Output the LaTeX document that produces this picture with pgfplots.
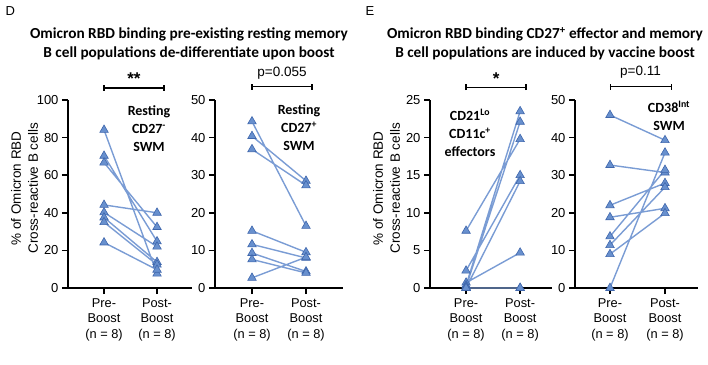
\documentclass[border=0pt]{standalone}
\usepackage{fontspec}
\setmainfont{Liberation Sans}
\newfontfamily\calib{Carlito}
\usepackage{pgfplots}
\pgfplotsset{compat=1.18}
\definecolor{lineblue}{RGB}{122,156,212}
\definecolor{markfill}{RGB}{104,144,206}
\definecolor{markdraw}{RGB}{62,102,172}
\pgfplotsset{
  panel/.style={
    scale only axis, height=188pt,
    axis lines=left, axis line style={-,line width=1.8pt,black},
    tick style={line width=1.6pt,black}, major tick length=6pt, tick align=outside,
    xtick={0,1}, xticklabels={{Pre-\\Boost\\(n = 8)},{Post-\\Boost\\(n = 8)}},
    xticklabel style={align=center,font=\fontsize{12.8}{15.6}\selectfont, yshift=-1pt},
    yticklabel style={font=\fontsize{13}{15}\selectfont},
    /pgf/number format/assume math mode=true,
    ymin=0, clip=false, unbounded coords=jump,
    every axis y label/.style={at={(rel axis cs:0,0.53)}, xshift=-43.5pt, rotate=90,
      anchor=center, align=center, font=\fontsize{13.5}{17}\selectfont},
  },
  subj/.style={line width=1.4pt, color=lineblue, mark=triangle*, mark size=4.9pt,
    mark options={fill=markfill, draw=markdraw, line width=0.6pt}},
}
\newcommand{\bracket}[4]{% x1, x2, y, width
  \draw[line width=#4] (axis cs:#1,#3) -- (axis cs:#2,#3);
  \draw[line width=#4] ([yshift=-3pt]axis cs:#1,#3) -- ([yshift=3pt]axis cs:#1,#3);
  \draw[line width=#4] ([yshift=-3pt]axis cs:#2,#3) -- ([yshift=3pt]axis cs:#2,#3);
}
\begin{document}
\begin{tikzpicture}
\useasboundingbox (0,0) rectangle (708pt,364pt);
% Panel letters and titles
\node[anchor=west, font=\fontsize{13}{15}\selectfont] at (2pt,353pt) {D};
\node[anchor=west, font=\fontsize{13}{15}\selectfont] at (362pt,353pt) {E};
\node[align=center, font=\calib\bfseries\fontsize{15.3}{19}\selectfont] at (189pt,320.5pt)
  {Omicron RBD binding pre-existing resting memory\\B cell populations de-differentiate upon boost};
\node[align=center, font=\calib\bfseries\fontsize{15.3}{19}\selectfont] at (545pt,320.5pt)
  {Omicron RBD binding CD27\textsuperscript{+} effector and memory\\B cell populations are induced by vaccine boost};

% Panel 1
\begin{axis}[panel, at={(68pt,76pt)}, anchor=south west, width=124pt,
  xmin=-0.68, xmax=1.66, ymax=100, ytick={0,20,40,60,80,100},
  ylabel={\% of Omicron RBD\\Cross-reactive B cells}]
\addplot[subj] coordinates {(0,84.1) (1,7.6) (0,nan)
  (0,70.3) (1,24.8) (0,nan) (0,66.7) (1,32.4) (0,nan) (0,44.2) (1,40.0) (0,nan)
  (0,40.2) (1,22.0) (0,nan) (0,37.5) (1,13.8) (0,nan) (0,35.0) (1,12.4) (0,nan)
  (0,24.2) (1,9.7)};
\bracket{0}{1.13}{106.4}{1.2pt}
\node[font=\fontsize{17}{18}\selectfont\bfseries] at (axis cs:0.565,111.5) {**};
\end{axis}
\node[align=center, font=\calib\bfseries\fontsize{14}{18}\selectfont] at (149pt,235pt)
  {Resting\\CD27\textsuperscript{-}\\SWM};

% Panel 2
\begin{axis}[panel, at={(215pt,76pt)}, anchor=south west, width=128pt,
  xmin=-0.685, xmax=1.685, ymax=50, ytick={0,10,20,30,40,50}]
\addplot[subj] coordinates {(0,44.3) (1,16.5) (0,nan)
  (0,40.4) (1,28.5) (0,nan) (0,36.9) (1,27.3) (0,nan) (0,15.2) (1,9.5) (0,nan)
  (0,11.6) (1,8.0) (0,nan) (0,9.3) (1,4.4) (0,nan) (0,7.6) (1,4.0) (0,nan)
  (0,2.7) (1,8.2)};
\bracket{0}{1.11}{53.5}{1.2pt}
\node[font=\fontsize{13.5}{16}\selectfont] at (axis cs:0.555,57.2) {p=0.055};
\end{axis}
\node[align=center, font=\calib\bfseries\fontsize{14}{18}\selectfont] at (299pt,236pt)
  {Resting\\CD27\textsuperscript{+}\\SWM};

% Panel 3
\begin{axis}[panel, at={(430pt,76pt)}, anchor=south west, width=122pt,
  xmin=-0.667, xmax=1.59, ymax=25, ytick={0,5,10,15,20,25},
  ylabel={\% of Omicron RBD\\Cross-reactive B cells}]
\addplot[subj] coordinates {(0,7.6) (1,19.8) (0,nan)
  (0,2.3) (1,15.0) (0,nan) (0,0.7) (1,4.7) (0,nan) (0,0.35) (1,23.5) (0,nan)
  (0,0.15) (1,22.1) (0,nan) (0,0) (1,14.2) (0,nan) (0,0) (1,0) (0,nan)
  (0,0) (1,0)};
\bracket{0}{1.11}{26.7}{1.2pt}
\node[font=\fontsize{17}{18}\selectfont\bfseries] at (axis cs:0.555,27.9) {*};
\end{axis}
\node[align=center, font=\calib\bfseries\fontsize{14}{18}\selectfont] at (470pt,231pt)
  {CD21\textsuperscript{Lo}\\CD11c\textsuperscript{+}\\effectors};

% Panel 4
\begin{axis}[panel, at={(575pt,76pt)}, anchor=south west, width=123pt,
  xmin=-0.636, xmax=1.6, ymax=50, ytick={0,10,20,30,40,50}]
\addplot[subj] coordinates {(0,46.0) (1,39.3) (0,nan)
  (0,32.7) (1,30.7) (0,nan) (0,22.0) (1,27.9) (0,nan) (0,18.8) (1,21.2) (0,nan)
  (0,13.7) (1,31.4) (0,nan) (0,11.4) (1,26.8) (0,nan) (0,9.0) (1,19.9) (0,nan)
  (0,0) (1,36.0)};
\bracket{0}{1.11}{53.5}{0.8pt}
\node[font=\fontsize{13.5}{16}\selectfont] at (axis cs:0.555,57.5) {p=0.11};
\end{axis}
\node[align=center, font=\calib\bfseries\fontsize{14}{18}\selectfont] at (669pt,248pt)
  {CD38\textsuperscript{Int}\\SWM};
\end{tikzpicture}
\end{document}
